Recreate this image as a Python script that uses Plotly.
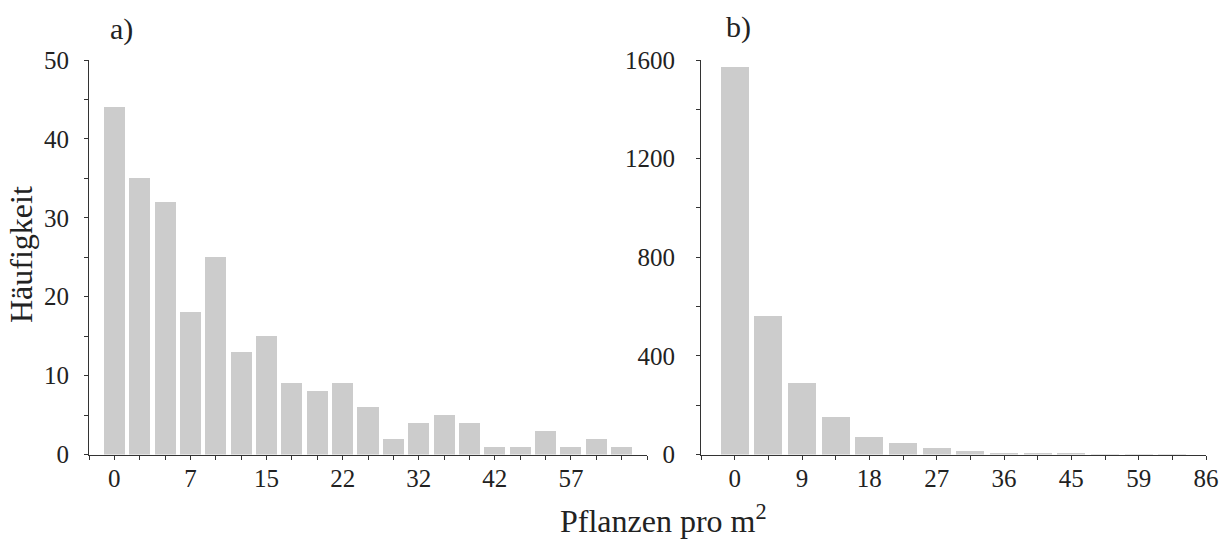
import plotly.graph_objects as go

# ---- data ----
left_counts = [44, 35, 32, 18, 25, 13, 15, 9, 8, 9, 6, 2, 4, 5, 4, 1, 1, 3, 1, 2, 1]
left_tick_labels = ["0", "7", "15", "22", "32", "42", "57"]   # every 3rd bar
right_counts = [1573, 562, 292, 154, 69, 45, 26, 13, 7, 5, 3, 2, 1, 1]
right_tick_labels = ["0", "9", "18", "27", "36", "45", "59", "86"]  # every 2nd bar
left_yticks = [0, 10, 20, 30, 40, 50]
right_yticks = [0, 400, 800, 1200, 1600]

W, H = 1221, 540
FONT = "Liberation Serif"
BAR = "#cccccc"
AX = "#333333"

def px_x(v):
    return v / W

def px_y(v):
    return 1 - v / H

nL = len(left_counts)
nR = len(right_counts)

# labelled (major) ticks and unlabelled (minor) ticks at every bar / axis end
left_major = [3 * i for i in range(len(left_tick_labels))]
left_minor = [t for t in range(-1, nL + 1) if t not in left_major]
right_end = 2 * (len(right_tick_labels) - 1)
right_major = [2 * i for i in range(len(right_tick_labels))]
right_minor = [t for t in range(-1, right_end + 1) if t not in right_major]

fig = go.Figure()
fig.add_trace(go.Bar(x=list(range(nL)), y=left_counts, width=0.83,
                     marker=dict(color=BAR, line=dict(width=0)),
                     xaxis="x", yaxis="y", showlegend=False))
fig.add_trace(go.Bar(x=list(range(nR)), y=right_counts, width=0.83,
                     marker=dict(color=BAR, line=dict(width=0)),
                     xaxis="x2", yaxis="y2", showlegend=False))

tickfont = dict(family=FONT, size=25, color="#222222")
common = dict(showline=True, linecolor=AX, linewidth=1, ticks="outside",
              ticklen=4, tickcolor=AX, tickwidth=1, showgrid=False,
              zeroline=False, tickfont=tickfont, tickmode="array",
              automargin=False)

def minor(vals):
    return dict(tickvals=vals, ticks="outside", ticklen=4, tickcolor=AX,
                tickwidth=1, showgrid=False)

ydom = [px_y(454.5), px_y(60)]

fig.update_layout(
    template="none",
    width=W, height=H,
    margin=dict(l=0, r=0, t=0, b=0, pad=0),
    paper_bgcolor="white", plot_bgcolor="white",
    bargap=0,
    xaxis=dict(domain=[px_x(89), px_x(647)], range=[-1, nL],
               tickvals=left_major, ticktext=left_tick_labels,
               minor=minor(left_minor),
               ticklabelstandoff=-3, anchor="y", **common),
    yaxis=dict(domain=ydom, range=[0, 50], tickvals=left_yticks,
               minor=minor([5, 15, 25, 35, 45]),
               ticklabelstandoff=10, anchor="x", **common),
    xaxis2=dict(domain=[px_x(701), px_x(1206)], range=[-1, right_end],
                tickvals=right_major, ticktext=right_tick_labels,
                minor=minor(right_minor),
                ticklabelstandoff=-3, anchor="y2", **common),
    yaxis2=dict(domain=ydom, range=[0, 1600], tickvals=right_yticks,
                minor=minor([200, 600, 1000, 1400]),
                ticklabelstandoff=16, anchor="x2", **common),
)

labfont = dict(family=FONT, size=30, color="#222222")
titlefont = dict(family=FONT, size=32, color="#222222")
fig.add_annotation(text="a)", x=px_x(122), y=px_y(29), xref="paper", yref="paper",
                   showarrow=False, font=labfont, xanchor="center", yanchor="middle")
fig.add_annotation(text="b)", x=px_x(738), y=px_y(27), xref="paper", yref="paper",
                   showarrow=False, font=labfont, xanchor="center", yanchor="middle")
fig.add_annotation(text="Häufigkeit", x=px_x(21), y=px_y(255), xref="paper", yref="paper",
                   showarrow=False, font=titlefont, textangle=-90,
                   xanchor="center", yanchor="middle")
fig.add_annotation(text="Pflanzen pro m<sup>2</sup>", x=px_x(664), y=px_y(519),
                   xref="paper", yref="paper", showarrow=False, font=titlefont,
                   xanchor="center", yanchor="middle")

fig.write_html("out.html", config={"displayModeBar": False},
               post_script="document.body.style.margin='0';")
